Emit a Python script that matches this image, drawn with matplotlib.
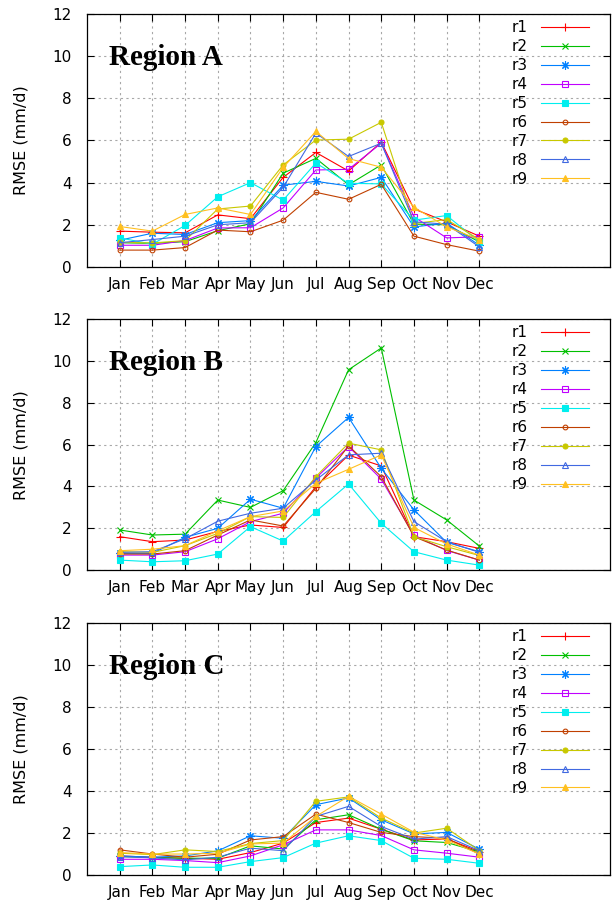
import matplotlib
matplotlib.use("Agg")
from matplotlib import pyplot as plt

months = ["Jan", "Feb", "Mar", "Apr", "May", "Jun",
          "Jul", "Aug", "Sep", "Oct", "Nov", "Dec"]
series = ["r1", "r2", "r3", "r4", "r5", "r6", "r7", "r8", "r9"]
regions = ["Region A", "Region B", "Region C"]

# RMSE per series (rows r1..r9), per month
rmse_a = [
    [1.70, 1.65, 1.62, 2.47, 2.29, 4.25, 5.43, 4.55, 5.92, 2.75, 2.14, 1.46],
    [1.15, 1.12, 1.20, 1.72, 2.05, 4.45, 5.15, 3.90, 4.84, 2.03, 2.00, 1.19],
    [1.27, 1.60, 1.54, 2.10, 2.20, 3.88, 4.06, 3.84, 4.25, 1.90, 2.08, 1.03],
    [1.03, 1.03, 1.25, 1.85, 1.86, 2.80, 4.60, 4.63, 5.87, 2.38, 1.38, 1.43],
    [1.38, 1.08, 1.97, 3.33, 4.00, 3.17, 4.93, 3.97, 3.94, 2.22, 2.44, 1.19],
    [0.80, 0.80, 0.92, 1.75, 1.67, 2.22, 3.54, 3.21, 3.92, 1.46, 1.06, 0.75],
    [1.17, 1.14, 1.25, 2.75, 2.89, 4.84, 6.02, 6.06, 6.86, 2.06, 2.25, 1.30],
    [1.15, 1.30, 1.46, 2.00, 2.10, 3.78, 6.35, 5.24, 5.87, 2.14, 2.03, 0.95],
    [1.92, 1.70, 2.49, 2.80, 2.49, 4.72, 6.43, 5.14, 4.73, 2.83, 1.90, 1.30],
]
rmse_b = [
    [1.60, 1.36, 1.44, 1.85, 2.16, 2.04, 3.99, 5.50, 4.98, 1.60, 1.36, 1.04],
    [1.92, 1.68, 1.72, 3.35, 3.00, 3.80, 6.10, 9.58, 10.62, 3.35, 2.40, 1.15],
    [0.80, 0.80, 1.57, 2.00, 3.39, 2.96, 5.91, 7.30, 4.87, 2.88, 1.33, 0.88],
    [0.72, 0.72, 0.88, 1.50, 2.32, 2.72, 4.40, 5.91, 4.35, 1.66, 0.94, 0.48],
    [0.48, 0.40, 0.45, 0.77, 2.08, 1.39, 2.80, 4.12, 2.24, 0.88, 0.48, 0.24],
    [0.77, 0.77, 0.93, 1.68, 2.40, 2.11, 3.91, 5.94, 4.47, 1.60, 0.96, 0.48],
    [0.88, 0.85, 1.17, 1.76, 2.56, 2.52, 4.47, 6.07, 5.75, 1.60, 1.12, 0.70],
    [0.85, 0.88, 1.50, 2.34, 2.72, 2.96, 4.31, 5.51, 5.59, 2.32, 1.36, 0.85],
    [0.93, 1.00, 1.17, 1.88, 2.56, 2.83, 4.15, 4.82, 5.51, 2.04, 1.25, 0.72],
]
rmse_c = [
    [0.91, 0.85, 0.80, 0.75, 1.07, 1.52, 2.50, 2.71, 2.18, 1.67, 1.72, 1.12],
    [0.88, 0.83, 0.80, 0.80, 1.39, 1.24, 2.63, 2.87, 2.18, 1.63, 1.55, 1.10],
    [0.91, 0.85, 0.91, 1.15, 1.87, 1.75, 3.35, 3.67, 2.63, 1.96, 2.03, 1.23],
    [0.75, 0.75, 0.69, 0.59, 0.91, 1.44, 2.15, 2.15, 1.88, 1.20, 1.04, 0.85],
    [0.40, 0.48, 0.37, 0.37, 0.64, 0.83, 1.52, 1.87, 1.64, 0.80, 0.75, 0.56],
    [1.20, 1.00, 0.85, 0.99, 1.67, 1.83, 2.90, 2.50, 2.03, 1.83, 1.75, 1.00],
    [1.04, 0.97, 1.20, 1.12, 1.50, 1.64, 3.51, 3.72, 2.71, 2.00, 2.23, 1.16],
    [0.88, 0.82, 0.72, 0.85, 1.28, 1.16, 2.79, 3.27, 2.31, 1.71, 1.83, 1.16],
    [1.07, 1.00, 1.00, 1.04, 1.48, 1.52, 2.79, 3.75, 2.90, 2.04, 1.67, 1.00],
]

# gnuplot classic line colours and point types
colors = ["#ff0000", "#00c000", "#0080ff", "#c000ff", "#00eeee",
          "#c04000", "#c8c800", "#4169e1", "#ffc020"]
markers = ["+", "x", (8, 2, 0), "s", "s", "o", "o", "^", "^"]
sizes = [6, 5, 6, 4.3, 4.3, 3.4, 3.6, 5, 5]
filled = [True, True, True, False, True, False, True, False, True]

plt.rcParams['font.family'] = ['DejaVu Sans']

fig = plt.figure(figsize=(6.14, 9.05), dpi=100)
boxes = [(0.1417, 0.705, 0.852, 0.2796),
         (0.1417, 0.370, 0.852, 0.2774),
         (0.1417, 0.0331, 0.852, 0.2785)]

x = list(range(1, 13))
for box, title, data in zip(boxes, regions, [rmse_a, rmse_b, rmse_c]):
    ax = fig.add_axes(box)
    for i, name in enumerate(series):
        mfc = colors[i] if filled[i] else "none"
        ax.plot(x, data[i], color=colors[i], lw=0.8, marker=markers[i],
                ms=sizes[i], mfc=mfc, mec=colors[i], mew=0.8, label=name)

    ax.set_xlim(0, 16)
    ax.set_ylim(0, 12)
    ax.set_xticks(x)
    ax.set_xticklabels(months)
    ax.set_yticks(range(0, 13, 2))
    ax.tick_params(direction="in", top=True, right=True, length=5,
                   labelsize=11, width=0.8)
    ax.tick_params(axis="x", pad=7)
    ax.tick_params(axis="y", pad=11)
    ax.grid(which="major", color="#a8a8a8", linestyle=(0, (2, 3)), lw=0.8)
    for s in ax.spines.values():
        s.set_linewidth(0.9)

    ax.set_ylabel("RMSE (mm/d)", fontsize=11.5, labelpad=17)
    ax.text(0.042, 0.798, title, transform=ax.transAxes, va="baseline",
            fontsize=21, fontweight="bold", family="Liberation Serif")

    ax.legend(loc="upper right", bbox_to_anchor=(0.960, 0.976),
              frameon=False, markerfirst=False, fontsize=11,
              handlelength=3.14, handletextpad=0.9, labelspacing=0.26,
              borderpad=0, borderaxespad=0)

plt.savefig("out.png", dpi=100)
